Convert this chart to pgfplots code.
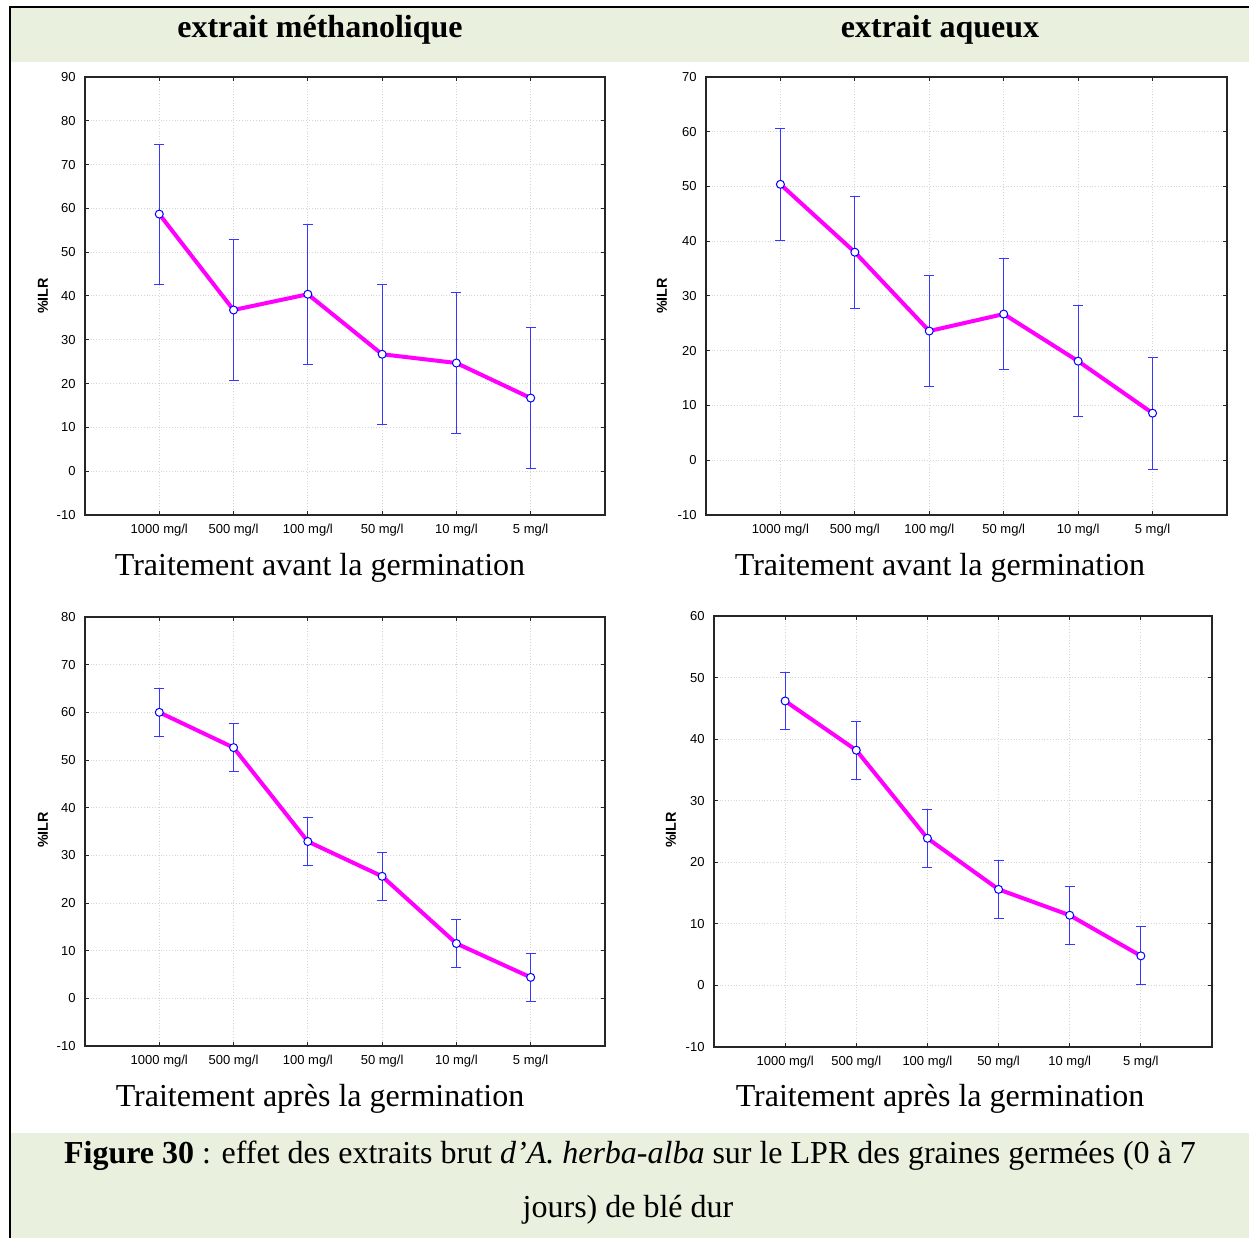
\documentclass[border=0pt]{standalone}
\usepackage{fontspec}
\setmainfont{Liberation Serif}
\setsansfont{Liberation Sans}
\usepackage{pgfplots}
\pgfplotsset{compat=1.18}

\definecolor{bandgreen}{RGB}{233,241,222}
\definecolor{errblue}{RGB}{55,55,255}
\definecolor{gridgray}{RGB}{212,212,212}
\definecolor{ligneMag}{RGB}{255,0,255}

\pgfplotsset{
  ilr/.style={
    scale only axis,
    anchor=south west,
    xmin=0, xmax=7,
    xtick={1,...,6},
    xticklabels={1000 mg/l,500 mg/l,100 mg/l,50 mg/l,10 mg/l,5 mg/l},
    ytick distance=10,
    grid=major,
    major grid style={gridgray, densely dotted, line width=0.5pt},
    axis line style={black!85, line width=0.75pt},
    tick style={black!85, line width=0.5pt},
    major tick length=2pt,
    tick align=inside,
    ticklabel style={font=\sffamily\fontsize{6.5}{7.5}\selectfont},
    /pgf/number format/assume math mode=true,
    xticklabel style={yshift=-1.2pt},
    yticklabel style={xshift=-1.2pt},
  },
  errs/.style={errblue, line width=0.5pt, mark=none, forget plot,
    error bars/.cd, y dir=both, y explicit,
    error bar style={errblue, line width=0.5pt},
    error mark options={errblue, line width=0.5pt, mark size=2.5pt, rotate=90}},
  ligne/.style={ligneMag, line width=2pt, mark=*, mark size=2pt,
    mark options={fill=white, draw=blue, line width=0.5pt}},
}

\begin{document}
\begin{tikzpicture}
\useasboundingbox (0,0) rectangle (624.5pt,619pt);

% bandes et titres (coordonnees en pixels)
\begin{scope}[x=0.5pt, y=-0.5pt, yshift=619pt]
  \fill[bandgreen] (11,8) rectangle (1249,62);
  \fill[bandgreen] (11,1133) rectangle (1249,1238);
  \node[anchor=base, font=\fontsize{16}{18}\selectfont\bfseries] at (320,38) {extrait méthanolique};
  \node[anchor=base, font=\fontsize{16}{18}\selectfont\bfseries] at (940,38) {extrait aqueux};
  \node[anchor=base, font=\fontsize{16}{18}\selectfont] at (320,576) {Traitement avant la germination};
  \node[anchor=base, font=\fontsize{16}{18}\selectfont] at (940,576) {Traitement avant la germination};
  \node[anchor=base, font=\fontsize{16}{18}\selectfont] at (320,1107) {Traitement après la germination};
  \node[anchor=base, font=\fontsize{16}{18}\selectfont] at (940,1107) {Traitement après la germination};
  \node[anchor=base, font=\fontsize{16}{18}\selectfont] at (630,1164)
    {\textbf{Figure 30} : effet des extraits brut \textit{d’A. herba-alba} sur le LPR des graines germées (0 à 7};
  \node[anchor=base, font=\fontsize{16}{18}\selectfont] at (628,1218) {jours) de blé dur};
  \foreach \xx/\yy in {43/296, 662/296, 43/830, 671/830}
    \node[rotate=90, font=\sffamily\bfseries\fontsize{7.2}{8}\selectfont] at (\xx,\yy) {\%ILR};
\end{scope}

% extrait methanolique, avant germination
\begin{axis}[ilr, at={(42.5pt,361.5pt)}, width=260pt, height=219pt, ymin=-10, ymax=90]
\addplot[errs] coordinates {
  (1,58.7) +- (0,16.0)
  (2,36.8) +- (0,16.0)
  (3,40.4) +- (0,16.0)
  (4,26.7) +- (0,16.0)
  (5,24.7) +- (0,16.0)
  (6,16.7) +- (0,16.0)
};
\addplot[ligne] coordinates {(1,58.7) (2,36.8) (3,40.4) (4,26.7) (5,24.7) (6,16.7)};
\end{axis}

% extrait aqueux, avant germination
\begin{axis}[ilr, at={(353pt,361.5pt)}, width=260.5pt, height=219pt, ymin=-10, ymax=70]
\addplot[errs] coordinates {
  (1,50.4) +- (0,10.2)
  (2,38.0) +- (0,10.2)
  (3,23.6) +- (0,10.2)
  (4,26.7) +- (0,10.2)
  (5,18.1) +- (0,10.2)
  (6,8.6) +- (0,10.2)
};
\addplot[ligne] coordinates {(1,50.4) (2,38.0) (3,23.6) (4,26.7) (5,18.1) (6,8.6)};
\end{axis}

% extrait methanolique, apres germination
\begin{axis}[ilr, at={(42.5pt,96pt)}, width=260pt, height=214.5pt, ymin=-10, ymax=80]
\addplot[errs] coordinates {
  (1,60.0) +- (0,5.0)
  (2,52.6) +- (0,5.0)
  (3,32.9) +- (0,5.0)
  (4,25.6) +- (0,5.0)
  (5,11.5) +- (0,5.0)
  (6,4.4) +- (0,5.0)
};
\addplot[ligne] coordinates {(1,60.0) (2,52.6) (3,32.9) (4,25.6) (5,11.5) (6,4.4)};
\end{axis}

% extrait aqueux, apres germination
\begin{axis}[ilr, at={(357pt,95.5pt)}, width=249pt, height=215.5pt, ymin=-10, ymax=60]
\addplot[errs] coordinates {
  (1,46.2) +- (0,4.7)
  (2,38.2) +- (0,4.7)
  (3,23.9) +- (0,4.7)
  (4,15.6) +- (0,4.7)
  (5,11.4) +- (0,4.7)
  (6,4.8) +- (0,4.7)
};
\addplot[ligne] coordinates {(1,46.2) (2,38.2) (3,23.9) (4,15.6) (5,11.4) (6,4.8)};
\end{axis}

% cadre
\begin{scope}[x=0.5pt, y=-0.5pt, yshift=619pt]
  \draw[black, line width=1pt] (10,1238) -- (10,7) -- (1249,7);
\end{scope}
\end{tikzpicture}
\end{document}
